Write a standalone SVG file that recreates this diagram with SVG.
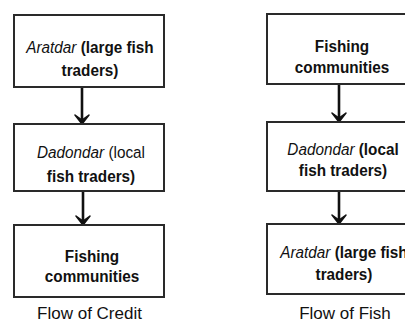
<svg xmlns="http://www.w3.org/2000/svg" width="405" height="325" viewBox="0 0 405 325">
<style>
.box{fill:#fff;stroke:#2a2a2a;stroke-width:2}
.t{font-family:"Liberation Sans",Arial,sans-serif;font-size:17px;fill:#111;text-anchor:middle}
.b{font-weight:bold}
.i{font-style:italic;font-weight:normal}
.n{font-weight:normal}
.lbl{font-family:"Liberation Sans",Arial,sans-serif;font-size:17px;fill:#111;text-anchor:middle}
.ln{stroke:#111;stroke-width:2.6;fill:none}
</style>
<defs>
<path id="head" d="M-7,-9 L0,0 L7,-9 L0,-4 Z" fill="#111" stroke="#111" stroke-width="1.5" stroke-linejoin="round"/>
</defs>
<rect width="405" height="325" fill="#fff"/>
<g id="connectors">
<line class="ln" x1="82" y1="88" x2="82" y2="122"/>
<use href="#head" x="82" y="124"/>
<line class="ln" x1="83" y1="192" x2="83" y2="223"/>
<use href="#head" x="83" y="225"/>
<line class="ln" x1="339" y1="85" x2="339" y2="120"/>
<use href="#head" x="339" y="122"/>
<line class="ln" x1="339" y1="192" x2="339" y2="222"/>
<use href="#head" x="339" y="224"/>
</g>
<g id="credit-aratdar">
<rect class="box" x="14" y="15" width="150" height="72"/>
<g transform="translate(90,0) scale(0.9,1)">
<text class="t b" x="0" y="53"><tspan class="i">Aratdar</tspan> (large fish</text>
<text class="t b" x="0" y="76">traders)</text>
</g>
</g>
<g id="credit-dadondar">
<rect class="box" x="14" y="124" width="150" height="67"/>
<g transform="translate(91,0) scale(0.9,1)">
<text class="t" x="0" y="158"><tspan class="i">Dadondar</tspan> (local</text>
<text class="t b" x="0" y="182">fish traders)</text>
</g>
</g>
<g id="credit-fishing">
<rect class="box" x="14" y="225" width="150" height="72"/>
<g transform="translate(92,0) scale(0.9,1)">
<text class="t b" x="0" y="262">Fishing</text>
<text class="t b" x="0" y="282">communities</text>
</g>
</g>
<g id="fish-fishing">
<rect class="box" x="267" y="14" width="150" height="70"/>
<g transform="translate(342,0) scale(0.9,1)">
<text class="t b" x="0" y="52">Fishing</text>
<text class="t b" x="0" y="73">communities</text>
</g>
</g>
<g id="fish-dadondar">
<rect class="box" x="267" y="122" width="150" height="69"/>
<g transform="translate(343,0) scale(0.9,1)">
<text class="t b" x="0" y="155"><tspan class="i">Dadondar</tspan> (local</text>
<text class="t b" x="0" y="176">fish traders)</text>
</g>
</g>
<g id="fish-aratdar">
<rect class="box" x="267" y="224" width="150" height="70"/>
<g transform="translate(344,0) scale(0.9,1)">
<text class="t b" x="0" y="258"><tspan class="i">Aratdar</tspan> (large fish</text>
<text class="t b" x="0" y="280">traders)</text>
</g>
</g>
<text class="lbl" x="89.5" y="319">Flow of Credit</text>
<text class="lbl" x="345" y="319">Flow of Fish</text>
</svg>
